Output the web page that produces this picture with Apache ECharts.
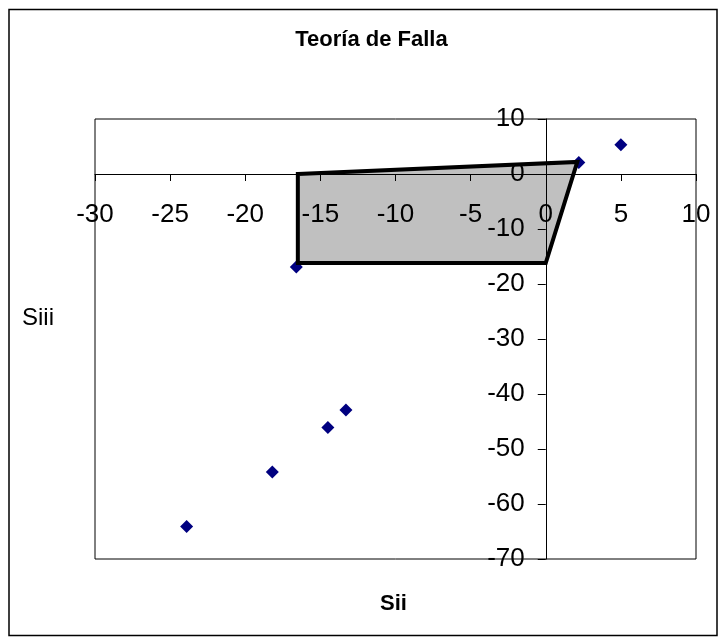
<!DOCTYPE html>
<html>
<head>
<meta charset="utf-8">
<script src="https://cdn.jsdelivr.net/npm/echarts@6/dist/echarts.min.js"></script>
<style>
  html, body { margin: 0; padding: 0; background: #fff; }
  #chart { width: 725px; height: 644px; }
</style>
</head>
<body>
<div id="chart"></div>
<script>
// Stress states (Sii, Siii)
const pointsSii  = [5, 2.2, -16.6, -23.9, -18.2, -14.5, -13.3];
const pointsSiii = [5.3, 2.1, -16.9, -64.1, -54.2, -46.1, -42.9];

// Safe region outline (vertices in order)
const regionSii  = [-16.5, 2.1, 0, -16.5];
const regionSiii = [0, 2.2, -16.2, -16.2];

// Axis ranges
const xMin = -30, xMax = 10, xStep = 5;
const yMin = -70, yMax = 10, yStep = 10;

const titleText = 'Teoría de Falla';
const xName = 'Sii';
const yName = 'Siii';

// Plot box
const gridLeft = 95, gridTop = 119, gridW = 601, gridH = 440;

// Axes cross at the origin: shift each axis from its edge to the zero line
const xAxisShift = -gridH * (0 - yMin) / (yMax - yMin);
const yAxisShift = -gridW * (0 - xMin) / (xMax - xMin);

const chart = echarts.init(document.getElementById('chart'), null, { renderer: 'canvas' });

const scatterData = pointsSii.map((x, i) => [x, pointsSiii[i]]);
const regionData = regionSii.map((x, i) => [x, regionSiii[i]]);

const labelFont = {
  fontFamily: 'Liberation Sans, Arial, sans-serif',
  fontSize: 26,
  color: '#000'
};

chart.setOption({
  backgroundColor: '#fff',
  animation: false,
  grid: {
    left: gridLeft, top: gridTop, width: gridW, height: gridH,
    show: true, borderColor: '#000', borderWidth: 1,
    backgroundColor: 'transparent'
  },
  xAxis: {
    type: 'value', min: xMin, max: xMax, interval: xStep, z: 3,
    position: 'bottom', offset: xAxisShift,
    axisLine: { onZero: false, lineStyle: { color: '#000', width: 1 } },
    axisTick: { show: true, length: 7, lineStyle: { color: '#000' } },
    axisLabel: Object.assign({ margin: 28, showMinLabel: true, showMaxLabel: true }, labelFont),
    splitLine: { show: false }
  },
  yAxis: {
    type: 'value', min: yMin, max: yMax, interval: yStep, z: 3,
    position: 'left', offset: yAxisShift,
    axisLine: { onZero: false, lineStyle: { color: '#000', width: 1 } },
    axisTick: { show: true, length: 8, lineStyle: { color: '#000' } },
    axisLabel: Object.assign({ margin: 21, showMinLabel: true, showMaxLabel: true }, labelFont),
    splitLine: { show: false }
  },
  series: [
    {
      type: 'scatter',
      data: scatterData,
      symbol: 'diamond',
      symbolSize: 13,
      itemStyle: { color: '#000080', opacity: 1 },
      z: 1
    },
    {
      type: 'custom',
      data: regionData,
      z: 2,
      renderItem: function (params, api) {
        if (params.dataIndex !== 0) return;
        const pts = regionData.map(p => api.coord(p));
        return {
          type: 'polygon',
          shape: { points: pts },
          style: { fill: '#c0c0c0', stroke: '#000', lineWidth: 4, lineJoin: 'miter' }
        };
      }
    }
  ],
  graphic: [
    {
      type: 'rect', z: -1, silent: true,
      shape: { x: 9, y: 9.5, width: 708, height: 626 },
      style: { fill: 'none', stroke: '#000', lineWidth: 1.5 }
    },
    {
      type: 'text', silent: true,
      style: {
        text: titleText, x: 371.5, y: 40, align: 'center', verticalAlign: 'middle',
        font: 'bold 22px "Liberation Sans", Arial, sans-serif', fill: '#000'
      }
    },
    {
      type: 'text', silent: true,
      style: {
        text: xName, x: 393.5, y: 604, align: 'center', verticalAlign: 'middle',
        font: 'bold 22px "Liberation Sans", Arial, sans-serif', fill: '#000'
      }
    },
    {
      type: 'text', silent: true,
      style: {
        text: yName, x: 22, y: 318, align: 'left', verticalAlign: 'middle',
        font: '24px "Liberation Sans", Arial, sans-serif', fill: '#000'
      }
    }
  ]
});
</script>
</body>
</html>
